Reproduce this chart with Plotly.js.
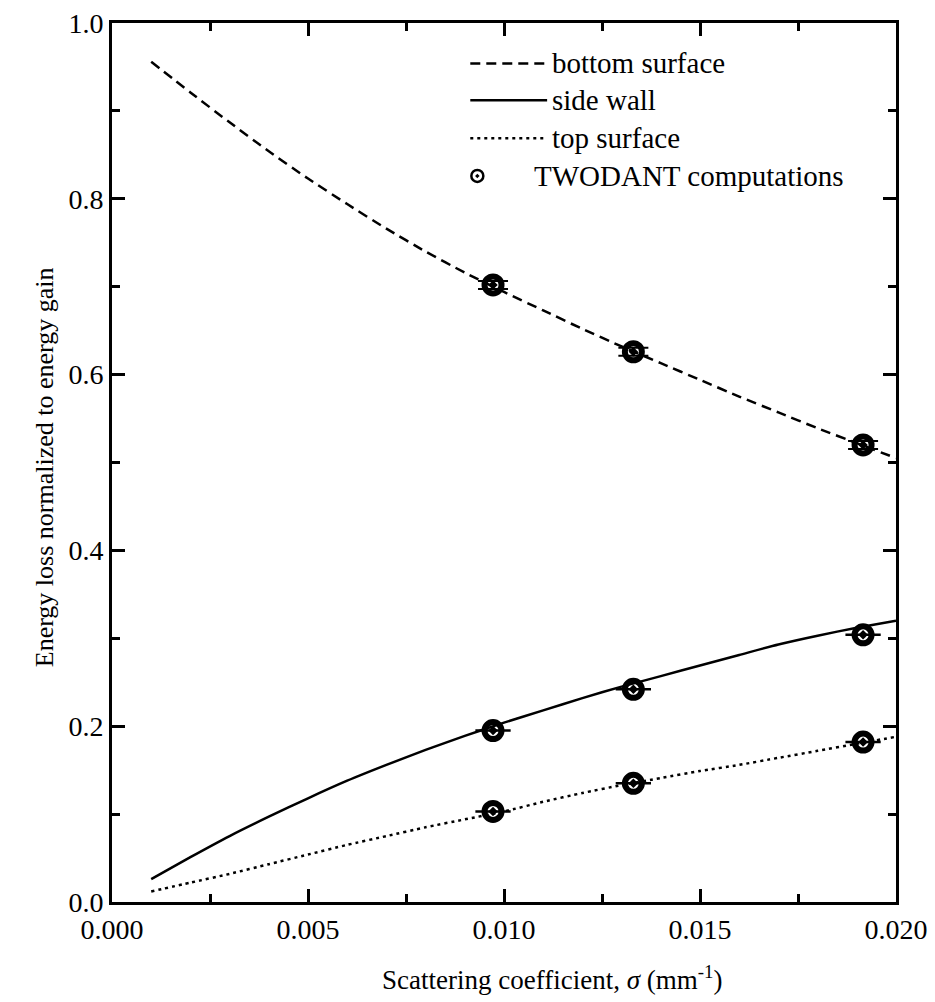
<!DOCTYPE html>
<html>
<head>
<meta charset="utf-8">
<script src="https://cdn.plot.ly/plotly-3.0.1.min.js"></script>
<style>html,body{margin:0;padding:0;background:#fff;}#chart{width:935px;height:1002px;}</style>
</head>
<body>
<div id="chart"></div>
<script>
// Curve abscissae (scattering coefficient, mm^-1)
const sigma = [0.001,0.002,0.003,0.004,0.005,0.006,0.007,0.008,0.009,0.010,0.011,0.012,0.013,0.014,0.015,0.016,0.017,0.018,0.019,0.020];
// Curves
const bottomSurface = [0.956,0.921,0.887,0.854,0.823,0.794,0.766,0.740,0.716,0.694,0.673,0.652,0.632,0.613,0.594,0.575,0.557,0.539,0.522,0.505];
const sideWall      = [0.026,0.051,0.075,0.097,0.118,0.138,0.156,0.173,0.189,0.204,0.218,0.232,0.245,0.257,0.269,0.281,0.293,0.303,0.312,0.320];
const topSurface    = [0.012,0.022,0.032,0.043,0.054,0.065,0.075,0.085,0.094,0.103,0.114,0.124,0.133,0.141,0.149,0.156,0.164,0.172,0.180,0.188];
// TWODANT computations
const twodantSigma  = [0.00972,0.01330,0.01916];
const twodantBottom = [0.702,0.626,0.520];
const twodantSide   = [0.195,0.242,0.304];
const twodantTop    = [0.103,0.135,0.182];
// Legend labels
const legendLabels = ["bottom surface","side wall","top surface","TWODANT computations"];

const FONT = "'Liberation Serif', 'Times New Roman', Times, serif";
const markerStyle = {symbol:'circle-open-dot', size:17, color:'#000', line:{width:6,color:'#000'}};

const traces = [
  {x:sigma, y:bottomSurface, mode:'lines', line:{color:'#000', width:2.5, dash:'10px,6px', shape:'spline', smoothing:0.6}, showlegend:false},
  {x:sigma, y:sideWall, mode:'lines', line:{color:'#000', width:2.5, shape:'spline', smoothing:0.6}, showlegend:false},
  {x:sigma, y:topSurface, mode:'lines', line:{color:'#000', width:2.5, dash:'3px,4px', shape:'spline', smoothing:0.6}, showlegend:false},
  {x:twodantSigma, y:twodantBottom, mode:'markers', marker:markerStyle, showlegend:false,
   error_y:{type:'constant', value:0.0045, width:15, thickness:2, color:'#000'}},
  {x:twodantSigma, y:twodantSide, mode:'markers', marker:markerStyle, showlegend:false,
   error_x:{type:'constant', value:0.00045, width:0, thickness:2.5, color:'#000'}},
  {x:twodantSigma, y:twodantTop, mode:'markers', marker:markerStyle, showlegend:false,
   error_x:{type:'constant', value:0.00045, width:0, thickness:2.5, color:'#000'}}
];

// custom legend in paper coordinates
const legRows = [0.954, 0.912, 0.869, 0.826];
const legDash = ['10px,6px','solid','3px,4px'];
const shapes = [];
for (let i=0;i<3;i++){
  shapes.push({type:'line', xref:'paper', yref:'paper', x0:0.457, x1:0.555, y0:legRows[i], y1:legRows[i],
    line:{color:'#000', width:2.5, dash:legDash[i]}});
}
const annotations = [];
for (let i=0;i<3;i++){
  annotations.push({xref:'paper', yref:'paper', x:0.559, y:legRows[i], xanchor:'left', yanchor:'middle',
    text:legendLabels[i], showarrow:false, font:{family:FONT, size:29, color:'#000'}});
}
annotations.push({xref:'paper', yref:'paper', x:0.536, y:legRows[3], xanchor:'left', yanchor:'middle',
  text:legendLabels[3], showarrow:false, font:{family:FONT, size:29, color:'#000'}});
// legend marker symbol (placed in data coords matching the legend row)
traces.push({x:[0.00932], y:[0.826], mode:'markers', showlegend:false, cliponaxis:false,
  marker:{symbol:'circle-open-dot', size:12, color:'#000', line:{width:2.5,color:'#000'}}});

annotations.push({xref:'paper', yref:'paper', x:0.561, y:-0.086, xanchor:'center', yanchor:'middle',
  text:'Scattering coefficient, <i>σ</i> (mm<sup>-1</sup>)', showarrow:false, font:{family:FONT, size:27, color:'#000'}});
annotations.push({xref:'paper', yref:'paper', x:-0.085, y:0.495, xanchor:'center', yanchor:'middle', textangle:-90,
  text:'Energy loss normalized to energy gain', showarrow:false, font:{family:FONT, size:26, color:'#000'}});

const axisCommon = {showline:true, linecolor:'#000', linewidth:3, mirror:'ticks', ticks:'inside',
  tickcolor:'#000', tickwidth:3, ticklen:13, showgrid:false, zeroline:false,
  tickfont:{family:FONT, size:28, color:'#000'}};

const layout = {
  width:935, height:1002,
  margin:{l:112, r:39, t:23, b:100},
  paper_bgcolor:'#fff', plot_bgcolor:'#fff',
  font:{family:FONT, color:'#000'},
  showlegend:false,
  xaxis:Object.assign({}, axisCommon, {range:[0,0.020], dtick:0.005, tick0:0, tickformat:'.3f',
    minor:{dtick:0.0025, ticks:'inside', ticklen:8, tickwidth:3, tickcolor:'#000'}}),
  yaxis:Object.assign({}, axisCommon, {range:[0,1.0], dtick:0.2, tick0:0, tickformat:'.1f',
    minor:{dtick:0.1, ticks:'inside', ticklen:8, tickwidth:3, tickcolor:'#000'}}),
  shapes:shapes,
  annotations:annotations
};

Plotly.newPlot('chart', traces, layout, {displayModeBar:false, staticPlot:true});
</script>
</body>
</html>
